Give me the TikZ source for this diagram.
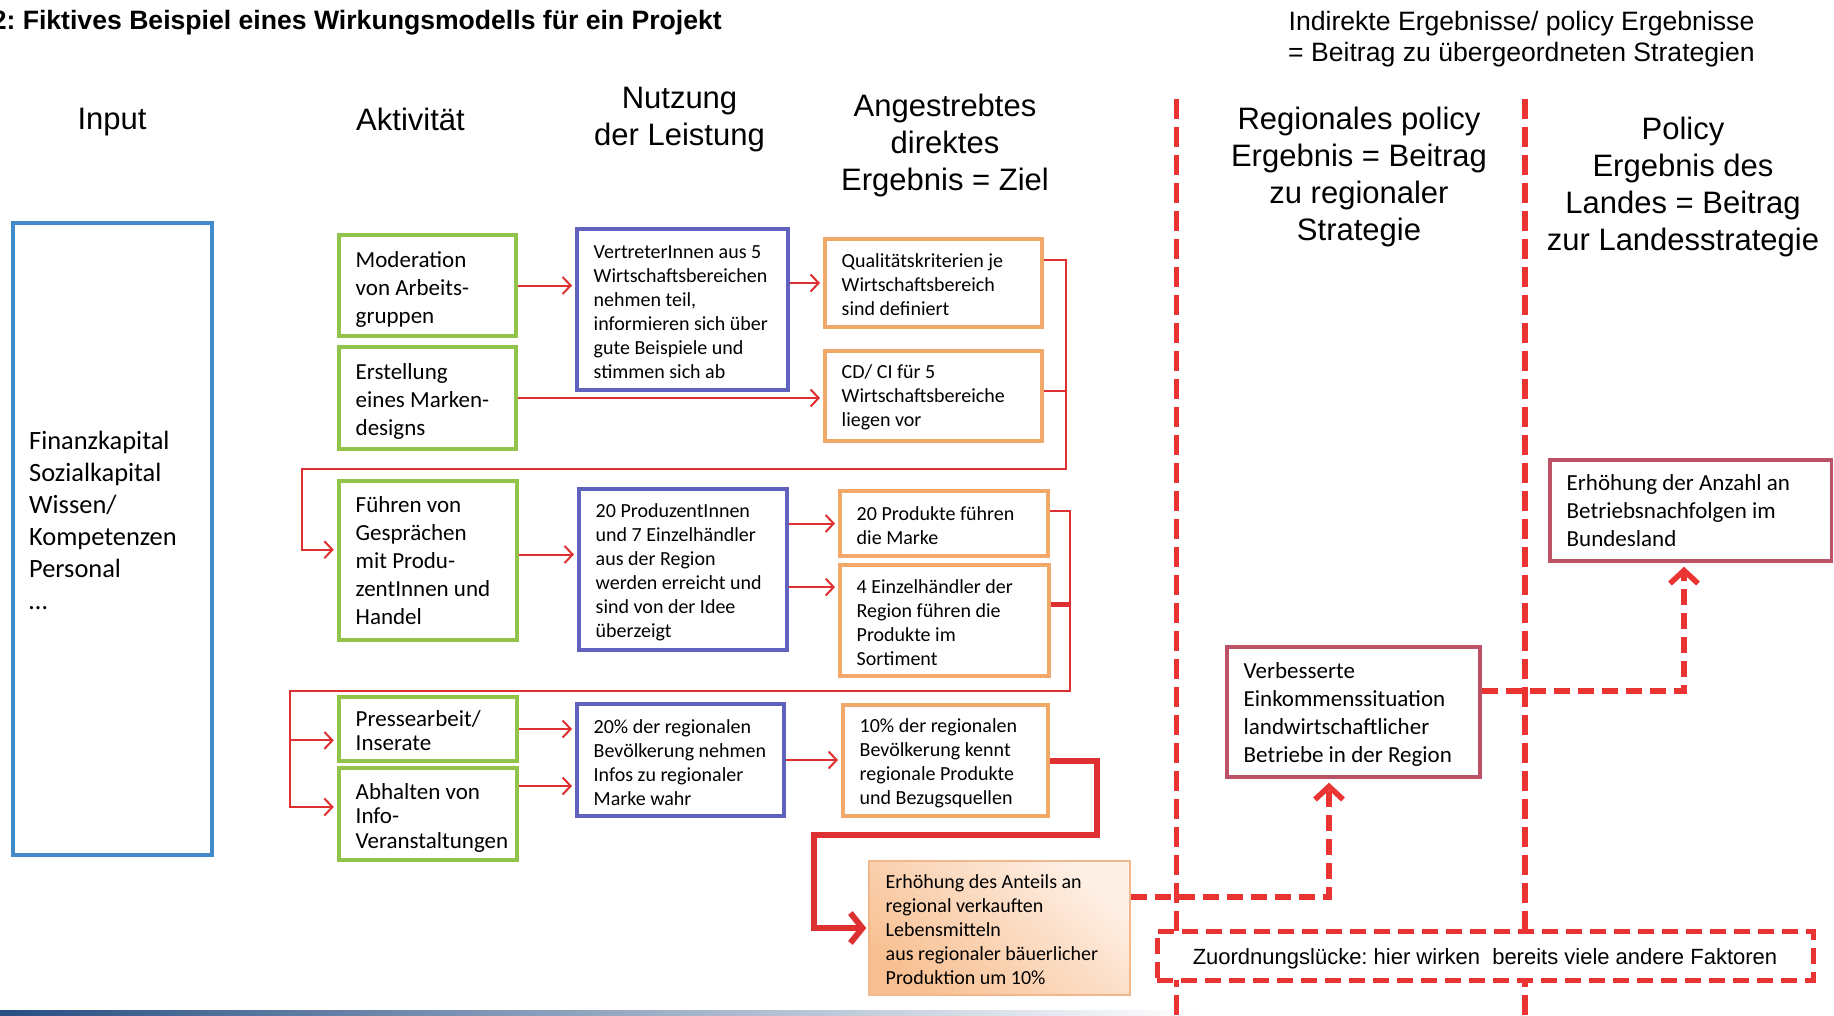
\documentclass[tikz,border=0pt]{standalone}
\usepackage{fontspec}
\setmainfont{Liberation Sans}
\newfontfamily\calib{Carlito}
\usetikzlibrary{arrows.meta}
\definecolor{cgreen}{RGB}{146,196,76}
\definecolor{cpurp}{RGB}{96,98,190}
\definecolor{corange}{RGB}{242,168,104}
\definecolor{cinblue}{RGB}{66,139,202}
\definecolor{crose}{RGB}{188,82,102}
\definecolor{cred}{RGB}{222,48,48}
\definecolor{cdash}{RGB}{234,52,52}
\definecolor{cerhA}{RGB}{248,192,146}
\definecolor{cerhB}{RGB}{254,240,230}
\definecolor{cerhL}{RGB}{242,184,140}
\definecolor{cbotblue}{RGB}{40,78,130}
\frenchspacing
\tikzset{
  gbox/.style={draw=cgreen, line width=4.5pt},
  gboxT/.style={font=\calib\fontsize{23}{28}\selectfont, inner sep=0pt},
  gsbox/.style={gbox},
  gsboxT/.style={font=\calib\fontsize{23}{24.5}\selectfont, inner sep=0pt},
  bbox/.style={draw=cpurp, line width=4pt},
  bboxT/.style={font=\calib\fontsize{20}{24}\selectfont, inner sep=0pt},
  obox/.style={draw=corange, line width=4pt},
  oboxT/.style={font=\calib\fontsize{20}{24}\selectfont, inner sep=0pt},
  ebox/.style={draw=cerhL, line width=1.5pt, top color=cerhB, bottom color=cerhA, shading angle=-40},
  eboxT/.style={font=\calib\fontsize{20}{24}\selectfont, inner sep=0pt},
  pbox/.style={draw=crose, line width=3.5pt},
  pboxT/.style={font=\calib\fontsize{23}{28}\selectfont, inner sep=0pt},
  ibox/.style={draw=cinblue, line width=3.5pt},
  hdr/.style={font=\fontsize{31}{37}\selectfont, align=center, inner sep=0pt},
  conn/.style={draw=cred, line width=2pt},
  carr/.style={conn, -{Straight Barb[length=8pt,width=17pt]}, shorten >=3pt},
  tharr/.style={draw=cred, line width=6pt, -{Straight Barb[length=12pt,width=30pt]}, shorten >=2pt},
  vdiv/.style={draw=cdash, line width=5.5pt, dash pattern=on 20pt off 8pt},
  darr/.style={draw=cdash, line width=5.5pt, dash pattern=on 16pt off 8pt, -{Straight Barb[length=13pt,width=28pt]}, shorten >=4pt},
  zbox/.style={draw=cdash, fill=white, line width=5pt, dash pattern=on 16pt off 8pt, inner sep=0pt, font=\fontsize{22}{26}\selectfont, text height=18pt, text depth=0pt},
}
\newcommand\mkbox[8][3.5]{%
  \node[#2, minimum width={(#6-#4)*1pt}, minimum height={(#7-#5)*1pt}, inner sep=0pt] (#3) at ({(#4+#6)/2},{(#5+#7)/2}) {};
  \node[#2T, anchor=west, align=left] (#3T) at ({#4+16.5},{(#5+#7)/2+#1}) {#8};}
\begin{document}
\begin{tikzpicture}[x=1pt,y=-1pt]
\useasboundingbox (0,0) rectangle (1834,1015);
\fill[white] (0,0) rectangle (1834,1015);
% bottom strip
\shade[left color=cbotblue, right color=white] (0,1010) rectangle (1200,1015);
% title and headers
\node[font=\bfseries\fontsize{26.6}{32}\selectfont, anchor=base east, inner sep=0pt] (title) at (722,29) {2: Fiktives Beispiel eines Wirkungsmodells für ein Projekt};
\node[hdr] (hInput) at (112,122) {Input};
\node[hdr] (hAkt) at (410.5,119) {Aktivität};
\node[hdr] (hNutz) at (679.5,120) {Nutzung\\der Leistung};
\node[hdr] (hZiel) at (945,145.5) {Angestrebtes\\direktes\\Ergebnis = Ziel};
\node[hdr, font=\fontsize{26.6}{31.6}\selectfont] (hInd) at (1521.5,39) {Indirekte Ergebnisse/ policy Ergebnisse\\= Beitrag zu übergeordneten Strategien};
\node[hdr] (hReg) at (1359,176.5) {Regionales policy\\Ergebnis = Beitrag\\zu regionaler\\Strategie};
\node[hdr] (hLand) at (1683,187) {Policy\\Ergebnis des\\Landes = Beitrag\\zur Landesstrategie};
% dividers
\coordinate (v1a) at (1176.6,99); \coordinate (v1b) at (1176.6,1015);
\coordinate (v2a) at (1525.1,99); \coordinate (v2b) at (1525.1,1015);
\draw[vdiv] (v1a) -- (v1b);
\draw[vdiv] (v2a) -- (v2b);
% input
\node[ibox, minimum width=199pt, minimum height=632pt, inner sep=0pt] (inp) at (112.5,539) {};
\node[font=\calib\fontsize{26.4}{32}\selectfont, anchor=north west, align=left, inner sep=0pt] (inpT) at (29,430.5) {Finanzkapital\\Sozialkapital\\Wissen/\\Kompetenzen\\Personal\\…};
% activities
\mkbox{gbox}{mod}{339}{235}{516}{336}{Moderation\\von Arbeits-\\gruppen}
\mkbox{gbox}{ers}{339}{347}{516}{449}{Erstellung\\eines Marken-\\designs}
\mkbox[0.5]{gbox}{fue}{339}{481}{517}{640}{Führen von\\Gesprächen\\mit Produ-\\zentInnen und\\Handel}
\mkbox[1.5]{gsbox}{pre}{339}{697}{517}{761}{Pressearbeit/\\Inserate}
\mkbox{gsbox}{abh}{339}{768}{517}{860}{Abhalten von\\Info-\\Veranstaltungen}
% usage
\mkbox[2.5]{bbox}{ver}{577}{229}{788}{390}{VertreterInnen aus 5\\Wirtschaftsbereichen\\nehmen teil,\\informieren sich über\\gute Beispiele und\\stimmen sich ab}
\mkbox[2.5]{bbox}{pro}{579}{489}{787}{650}{20 ProduzentInnen\\und 7 Einzelhändler\\aus der Region\\werden erreicht und\\sind von der Idee\\überzeigt}
\mkbox[2.5]{bbox}{pct}{577}{704}{784}{816}{20\% der regionalen\\Bevölkerung nehmen\\Infos zu regionaler\\Marke wahr}
% direct results
\mkbox[1.5]{obox}{qua}{825}{239}{1042}{327}{Qualitätskriterien je\\Wirtschaftsbereich\\sind definiert}
\mkbox[1.5]{obox}{cdc}{825}{351}{1042}{441}{CD/ CI für 5\\Wirtschaftsbereiche\\liegen vor}
\mkbox[2.5]{obox}{prk}{840}{491}{1048}{556}{20 Produkte führen\\die Marke}
\mkbox[2.5]{obox}{ein}{840}{565}{1049}{676}{4 Einzelhändler der\\Region führen die\\Produkte im\\Sortiment}
\mkbox[2.5]{obox}{ten}{843}{705}{1048}{816}{10\% der regionalen\\Bevölkerung kennt\\regionale Produkte\\und Bezugsquellen}
\mkbox[2]{ebox}{erh}{869}{861}{1130}{995}{Erhöhung des Anteils an\\regional verkauften\\Lebensmitteln\\aus regionaler bäuerlicher\\Produktion um 10\%}
% policy results
\mkbox[2.5]{pbox}{vbs}{1227}{647}{1480}{777}{Verbesserte\\Einkommenssituation\\landwirtschaftlicher\\Betriebe in der Region}
\mkbox[0]{pbox}{anz}{1550}{460}{1831.5}{561}{Erhöhung der Anzahl an\\Betriebsnachfolgen im\\Bundesland}
% Zuordnungsluecke
\node[zbox, minimum width=656pt, minimum height=49pt] (zuo) at (1485,955.5) {Zuordnungslücke: hier wirken\ \ bereits viele andere Faktoren};
% thin connectors
\coordinate (b1) at (1065.5,469); \coordinate (b2) at (301.8,469);
\coordinate (b3) at (1070.2,691.2); \coordinate (b4) at (290,691.2);
\draw[carr] (mod.east) -- (mod.east -| ver.west);
\draw[carr] (qua.west -| ver.east) -- (qua.west);
\draw[carr] (ers.east) -- (ers.east -| cdc.west);
\draw[carr] ([yshift=23.4pt]qua.east) -| (b1) -- (b2) |- ([yshift=10.8pt]fue.west);
\draw[conn] ([yshift=5.4pt]cdc.east) -- ([yshift=5.4pt]cdc.east -| b1);
\draw[carr] ([yshift=6pt]fue.east) -- ([yshift=6pt]fue.east -| pro.west);
\draw[carr] (prk.west -| pro.east) -- (prk.west);
\draw[carr] ([yshift=-17.6pt]pro.east) -- ([yshift=-17.6pt]pro.east -| ein.west);
\draw[carr] ([yshift=12.5pt]prk.east) -| (b3) -- (b4) |- ([yshift=7pt]abh.west);
\draw[conn, line width=4.5pt] ([yshift=15.8pt]ein.east) -- ([yshift=15.8pt]ein.east -| b3);
\draw[carr] ([yshift=-11.4pt]pre.west -| b4) -- ([yshift=-11.4pt]pre.west);
\draw[carr] (pre.east) -- (pre.east -| pct.west);
\draw[carr] ([yshift=28pt]abh.east) -- ([yshift=28pt]abh.east -| pct.west);
\draw[carr] (pct.east) -- (pct.east -| ten.west);
% thick connector
\coordinate (t1) at (1097,835); \coordinate (t2) at (814,835);
\draw[tharr] (ten.east) -| (t1) -- (t2) |- (erh.west);
% dashed connectors
\coordinate (d1) at (1329,897); \coordinate (d2) at (1684,691.2);
\draw[darr] ([yshift=31pt]erh.east) -- (d1) -- (d1 |- vbs.south);
\draw[darr] ([yshift=20.8pt]vbs.east) -- (d2) -- (d2 |- anz.south);
\end{tikzpicture}
\end{document}
